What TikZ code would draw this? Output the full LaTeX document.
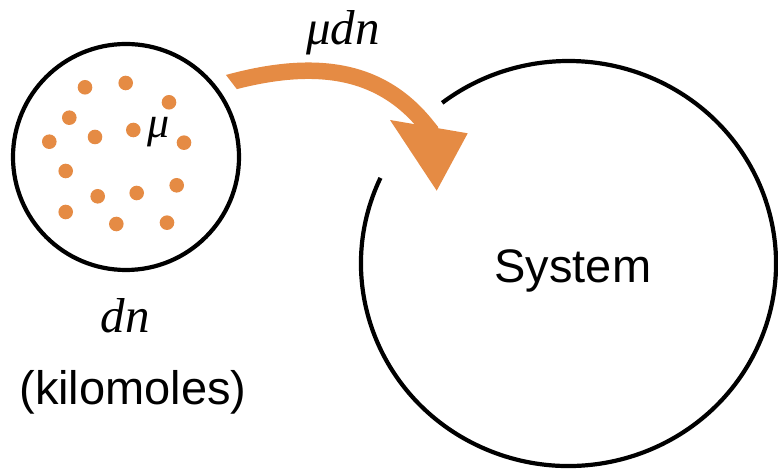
\documentclass[tikz,border=0pt]{standalone}
\usepackage{fontspec}
\setmainfont{Liberation Sans}
\newfontfamily\timesf{Liberation Serif}
\definecolor{arrorange}{RGB}{229,139,68}
\tikzset{
  dotnode/.style={circle, fill=arrorange, inner sep=0pt, minimum size=14.6pt},
  ringline/.style={draw=black, line width=4.2pt},
  shaftline/.style={draw=arrorange, line width=16.5pt, line cap=butt},
  sanslabel/.style={inner sep=0pt, anchor=base, font=\fontsize{47}{50}\selectfont},
  mathlabel/.style={inner sep=0pt, anchor=base, font=\timesf\itshape\fontsize{49}{52}\selectfont}
}
\begin{document}
\begin{tikzpicture}[x=1pt,y=1pt]
\useasboundingbox (0,0) rectangle (778,470);
% small circle
\node[circle, ringline, minimum size=226pt, inner sep=0pt] (drop) at (126,313) {};
% dots
\node[dotnode] (d1) at (85,382.7) {};
\node[dotnode] (d2) at (125.7,387) {};
\node[dotnode] (d3) at (169,367.7) {};
\node[dotnode] (d4) at (69.3,352.3) {};
\node[dotnode] (d5) at (95,333) {};
\node[dotnode] (d6) at (133.3,340) {};
\node[dotnode] (d7) at (49.3,328.3) {};
\node[dotnode] (d8) at (184,327.3) {};
\node[dotnode] (d9) at (65.7,299) {};
\node[dotnode] (d10) at (176.7,284.7) {};
\node[dotnode] (d11) at (97.7,273.7) {};
\node[dotnode] (d12) at (136.7,277) {};
\node[dotnode] (d13) at (65.7,258) {};
\node[dotnode] (d14) at (116.3,246) {};
\node[dotnode] (d15) at (167,247.3) {};
\node[mathlabel, font=\timesf\itshape\fontsize{44}{46}\selectfont] (mu) at (159,332) {μ};
% labels under small circle
\node[mathlabel] (dn) at (125,137) {dn};
\node[sanslabel] (kmol) at (133,65) {(kilomoles)};
% system
\coordinate (sys) at (568.5,206.5);
\draw[ringline] ([shift={(155:207.5 and 202.5)}]sys) arc[start angle=155, end angle=487.5, x radius=207.5, y radius=202.5];
\node[sanslabel] (systxt) at (572.8,187) {System};
% arrow
\coordinate (tailx) at (221.8,385.4);
\coordinate (tail) at (231.5,388);
\coordinate (hb) at (427,343.7);
\coordinate (hbx) at (432,337.5);
\coordinate (hl) at (390,350);
\coordinate (hr) at (467.7,336.7);
\coordinate (tip) at (436.7,279.3);
\begin{scope}
\clip (201.7,426.8) -- (261,349.2) -- (261,250) -- (520,250) -- (520,470) -- (201.7,470) -- cycle;
\draw[shaftline] (tailx) -- (tail) .. controls (321.5,411.8) and (383.6,398.3) .. (hb) -- (hbx);
\end{scope}
\fill[arrorange] (hl) -- (hr) -- (tip) -- cycle;
\node[mathlabel] (mudn) at (343,425) {μdn};
\end{tikzpicture}
\end{document}
